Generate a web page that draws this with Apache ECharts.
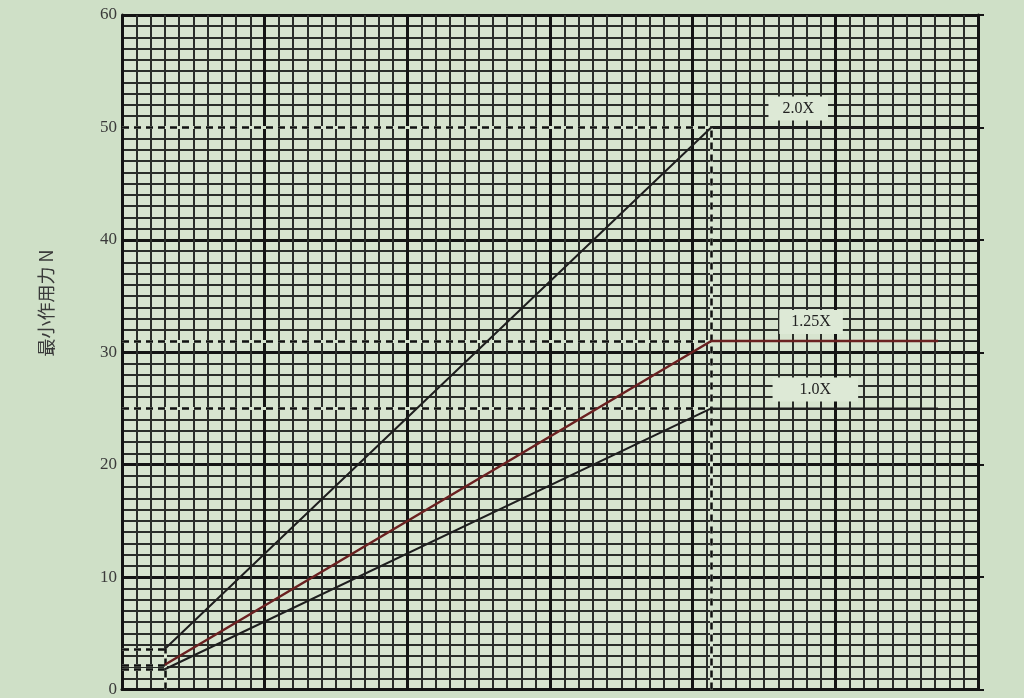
<!DOCTYPE html>
<html>
<head>
<meta charset="utf-8">
<script src="https://cdn.jsdelivr.net/npm/echarts@6/dist/echarts.min.js"></script>
<style>
html,body{margin:0;padding:0;background:#cfe0c7;}
#chart{width:1024px;height:698px;}
</style>
</head>
<body>
<div id="chart"></div>
<script>
// ---- data ----
const seriesNames = ['2.0X', '1.25X', '1.0X'];
const startX = 3;            // x where every curve starts
const breakX = 41.3;         // x where the curves level off
const startValues = [3.6, 2.2, 1.8];
const endValues = [50, 31, 25];
const flatEndX = [60, 57.2, 57.2];
const yTickValues = [0, 10, 20, 30, 40, 50, 60];
const yAxisName = '最小作用力 N';

// ---- styling ----
const bgColor = '#cfe0c7';
const cellColor = '#d7e4cf';
const lineColors = ['#1e1e1e', '#6a2020', '#1e1e1e'];
const labelPadding = [[4, 14], [4, 12], [4, 27]];
const labelAt = [47.4, 48.3, 48.6];
const serif = '"Liberation Serif", "DejaVu Serif", serif';

// guide (dashed) segments, built from the data
const guideSegments = [];
seriesNames.forEach((n, i) => {
  guideSegments.push([{ coord: [0, endValues[i]] }, { coord: [breakX, endValues[i]] }]);
  guideSegments.push([{ coord: [0, startValues[i]] }, { coord: [startX, startValues[i]] }]);
});
guideSegments.push([{ coord: [breakX, 0] }, { coord: [breakX, Math.max.apply(null, endValues)] }]);
guideSegments.push([{ coord: [startX, 0] }, { coord: [startX, Math.max.apply(null, startValues)] }]);

const chart = echarts.init(document.getElementById('chart'));

const series = seriesNames.map((name, i) => ({
  name: name,
  type: 'line',
  symbol: 'none',
  silent: true,
  z: 6,
  lineStyle: { color: lineColors[i], width: i === 1 ? 2.5 : 2 },
  data: [[startX, startValues[i]], [breakX, endValues[i]], [flatEndX[i], endValues[i]]],
  markPoint: {
    silent: true,
    z: 7,
    symbol: 'circle',
    symbolSize: 0,
    data: [{ coord: [labelAt[i], endValues[i]] }],
    label: {
      show: true,
      formatter: name,
      position: 'inside',
      offset: [0, -19],
      fontFamily: serif,
      fontSize: 16,
      color: '#222',
      backgroundColor: '#dde9d6',
      padding: labelPadding[i]
    }
  }
}));

// eraser under the dashed guides (hides the grid line beneath them)
series.push({
  name: 'guide-eraser',
  type: 'line',
  symbol: 'none',
  silent: true,
  z: 3,
  lineStyle: { opacity: 0 },
  data: [[startX, startValues[0]]],
  markLine: {
    silent: true, z: 3, symbol: 'none', label: { show: false },
    lineStyle: { color: cellColor, width: 3, type: 'solid' },
    data: guideSegments
  }
});
series.push({
  name: 'guide-dashed',
  type: 'line',
  symbol: 'none',
  silent: true,
  z: 4,
  lineStyle: { opacity: 0 },
  data: [[startX, startValues[0]]],
  markLine: {
    silent: true, z: 4, symbol: 'none', label: { show: false },
    lineStyle: { color: '#111', width: 2.5, type: [7, 5] },
    data: guideSegments
  }
});

const gridLineMajor = { show: true, lineStyle: { color: '#141414', width: 3 } };
const gridLineMinor = { show: true, lineStyle: { color: '#2a2d29', width: 2 } };

chart.setOption({
  backgroundColor: bgColor,
  animation: false,
  grid: {
    left: 122, right: 46, top: 15, bottom: 3,
    show: true, backgroundColor: cellColor, borderWidth: 0
  },
  xAxis: {
    type: 'value', min: 0, max: 60, interval: 10,
    axisLabel: { show: false },
    axisTick: { show: false },
    axisLine: { show: true, lineStyle: { color: '#141414', width: 3 } },
    splitLine: gridLineMajor,
    minorTick: { show: false, splitNumber: 10 },
    minorSplitLine: gridLineMinor
  },
  yAxis: [{
    type: 'value', min: 0, max: 60, interval: 10,
    axisLabel: {
      show: true, margin: 5, fontFamily: serif, fontSize: 17, color: '#3a3a3a',
      formatter: v => (yTickValues.indexOf(v) >= 0 ? String(v) : '')
    },
    axisTick: { show: false },
    axisLine: { show: true, lineStyle: { color: '#141414', width: 3 } },
    splitLine: gridLineMajor,
    minorTick: { show: false, splitNumber: 10 },
    minorSplitLine: gridLineMinor
  }, {
    type: 'value', min: 0, max: 60, interval: 10, position: 'right',
    axisLabel: { show: false },
    axisTick: { show: true, length: 6, lineStyle: { color: '#141414', width: 2 } },
    axisLine: { show: true, lineStyle: { color: '#141414', width: 3 } },
    splitLine: { show: false }
  }],
  graphic: [{
    type: 'text',
    x: 46, y: 303,
    rotation: Math.PI / 2,
    style: {
      text: yAxisName,
      fontFamily: '"Noto Sans CJK SC", serif',
      fontSize: 18,
      fill: '#3a3a3a',
      align: 'center',
      verticalAlign: 'middle'
    }
  }],
  series: series
});
</script>
</body>
</html>
